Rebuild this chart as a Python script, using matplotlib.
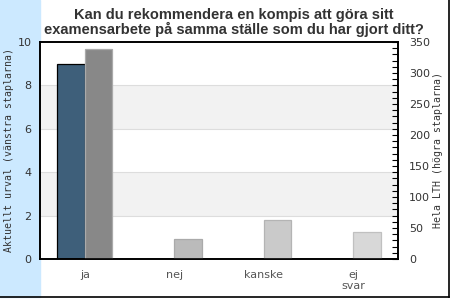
import matplotlib
matplotlib.use('Agg')
import matplotlib.pyplot as plt
from matplotlib.patches import Rectangle
from matplotlib.lines import Line2D
import numpy as np

categories = ['ja', 'nej', 'kanske', 'ej\nsvar']
urval = [9, 0, 0, 0]            # left axis
lth = [338, 32, 63, 43]         # right axis
lth_colors = ['#888888', '#bbbbbb', '#cacaca', '#d8d8d8']
lth_edges = ['#aaaaaa', '#aaaaaa', '#b4b4b4', '#c0c0c0']

fig = plt.figure(figsize=(4.5, 3), dpi=100)
fig.patches.append(Rectangle((0, 0.01), 40 / 450, 0.99, transform=fig.transFigure,
                             color='#cce9ff', zorder=-5))
fig.lines.append(Line2D([0, 0.997], [0.009, 0.009], transform=fig.transFigure, color='black', lw=1.2))
fig.lines.append(Line2D([0.997, 0.997], [0.009, 1], transform=fig.transFigure, color='black', lw=1.2))

ax = fig.add_axes([40 / 450, 41 / 300, 358 / 450, 217 / 300])
ax2 = ax.twinx()

x = np.arange(len(categories))
w = 0.305

ax.set_ylim(0, 10)
ax.set_xlim(-0.5, 3.5)
for lo in (2, 6):
    ax.axhspan(lo, lo + 2, color='#f2f2f2', zorder=0, lw=0)
for g in (2, 4, 6, 8):
    ax.axhline(g, color='#dddddd', lw=0.8, zorder=0.5)

ax.bar(x - w / 2, urval, w, color='#3e5f7a', edgecolor='black', lw=0.9, zorder=2)
ax2.bar(x + w / 2, lth, w, color=lth_colors, edgecolor=lth_edges, lw=0.9, zorder=2)
ax2.set_ylim(0, 350)

ax.set_yticks(range(0, 11, 2))
ax.tick_params(axis='y', length=0, labelsize=8, labelcolor='#333333', pad=6)
ax.set_xticks(x)
ax.set_xticklabels(categories, fontsize=8, color='#555555', linespacing=1.1)
ax.tick_params(axis='x', length=0, pad=8)

ax2.set_yticks(range(0, 351, 50))
ax2.set_yticks(range(0, 351, 10), minor=True)
ax2.tick_params(axis='y', which='both', direction='in', length=4, width=0.8,
                labelsize=8, labelcolor='#333333', pad=8)

for a in (ax, ax2):
    for s in a.spines.values():
        s.set_linewidth(1.2)

ax.set_ylabel('Aktuellt urval (vänstra staplarna)', family='DejaVu Sans Mono',
              fontsize=7.1, color='#333333')
ax.yaxis.set_label_coords(-0.074, 0.5)
ax2.set_ylabel('Hela LTH (högra staplarna)', family='DejaVu Sans Mono',
               fontsize=7.1, color='#333333')
ax2.yaxis.set_label_coords(1.098, 0.5)

fig.text(0.52, 0.975, 'Kan du rekommendera en kompis att göra sitt\nexamensarbete på samma ställe som du har gjort ditt?',
         ha='center', va='top', fontsize=10.5, fontweight='bold', color='#333333',
         family='Liberation Sans', linespacing=1.0)

fig.savefig('out.png', dpi=100)
